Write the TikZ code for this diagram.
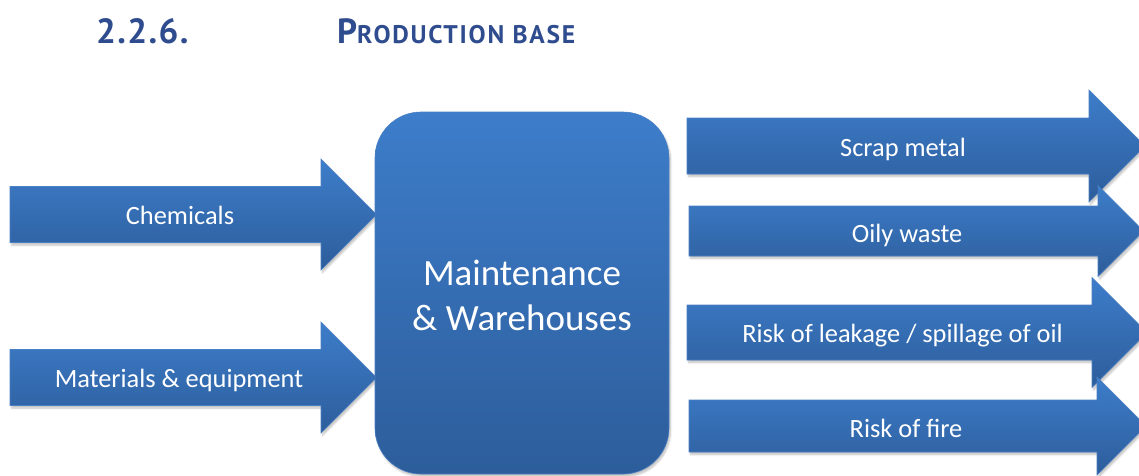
\documentclass[tikz,border=0pt]{standalone}
\usepackage{fontspec}
\setmainfont{Carlito}
\newfontfamily\titlefont[LetterSpace=4]{PT Sans}
\newfontfamily\titlefontsc[LetterSpace=7]{PT Sans}
\usetikzlibrary{shadows.blur}
\definecolor{bluetop}{HTML}{3D7DCA}
\definecolor{bluebot}{HTML}{2D5D9B}
\definecolor{blueedge}{HTML}{4A80C4}
\definecolor{titleblue}{HTML}{2F4C8E}
\tikzset{
  blockfill/.style={top color=bluetop, bottom color=bluebot, draw=blueedge, line width=0.6pt,
    blur shadow={shadow xshift=1.5pt, shadow yshift=-2.5pt, shadow blur steps=6, shadow opacity=25}},
  arrowlabel/.style={anchor=base, text=white, font=\fontsize{26.4}{30}\selectfont, inner sep=0pt},
  boxlabel/.style={anchor=base, text=white, font=\fontsize{37}{45}\selectfont, inner sep=0pt},
  titletext/.style={anchor=base west, text=titleblue, inner sep=0pt},
}
% #1 left x, #2 head start x, #3 centre y, #4 shaft half height, #5 head half height
\newcommand\blockarrow[5]{%
  \path[blockfill] (#1,#3-#4) -- (#2,#3-#4) -- (#2,#3-#5) -- (#2+#5,#3) -- (#2,#3+#5) -- (#2,#3+#4) -- (#1,#3+#4) -- cycle;}
\begin{document}
\begin{tikzpicture}[x=1pt,y=-1pt]
\useasboundingbox (0,0) rectangle (1139,475);
% title
\node[titletext, font=\titlefont\bfseries\fontsize{35}{40}\selectfont] (num) at (96,43) {2.2.6.};
\node[titletext, font=\titlefontsc\bfseries\fontsize{35}{40}\selectfont] (ttl) at (337,43) {P{\fontsize{25.5}{30}\selectfont RODUCTION BASE}};
% input arrows
\blockarrow{10}{321}{214.5}{28}{55.5}
\node[arrowlabel] (chem) at (180,224) {Chemicals};
\blockarrow{10}{321}{377.5}{28}{55.5}
\node[arrowlabel] (mat) at (179,387) {Materials \& equipment};
% central box
\path[blockfill, rounded corners=46pt] (375,112) rectangle (669,474);
\node[boxlabel] (m1) at (522,285) {Maintenance};
\node[boxlabel] (m2) at (522,330) {\& Warehouses};
% output arrows
\blockarrow{687}{1089}{146}{28}{56}
\node[arrowlabel] (scrap) at (903,156) {Scrap metal};
\blockarrow{689}{1098}{231}{25}{45.5}
\node[arrowlabel] (oily) at (907,242) {Oily waste};
\blockarrow{687}{1092}{332.5}{27.5}{55}
\node[arrowlabel] (leak) at (902.5,342) {Risk of leakage / spillage of oil};
\blockarrow{689}{1097}{426}{26}{49}
\node[arrowlabel] (fire) at (906,437) {Risk of fire};
\end{tikzpicture}
\end{document}
